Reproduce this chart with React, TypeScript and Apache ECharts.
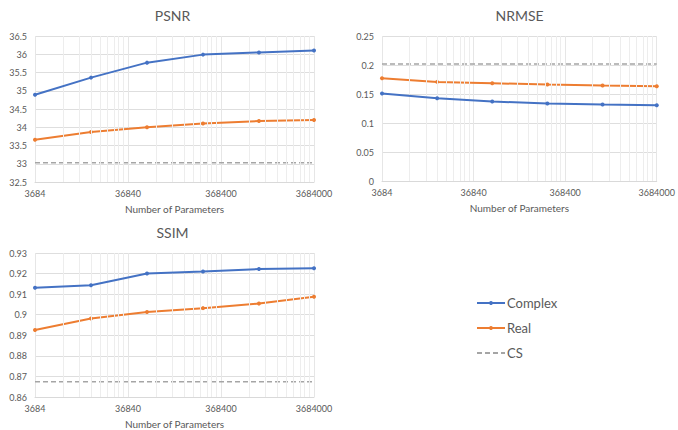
import React, { useEffect, useRef } from "react";
import * as echarts from "echarts";

const BASE = 3684;
const params = [3684, 14736, 58944, 235776, 943104, 3684000];
const xTickLabels = ["3684", "36840", "368400", "3684000"];

const psnrComplex = [34.89, 35.36, 35.77, 35.99, 36.05, 36.1];
const psnrReal = [33.66, 33.87, 34.0, 34.1, 34.17, 34.2];
const psnrCS = [33.03, 33.03, 33.03, 33.03, 33.03, 33.03];

const nrmseComplex = [0.1508, 0.1428, 0.137, 0.1336, 0.1319, 0.1307];
const nrmseReal = [0.1772, 0.1709, 0.1686, 0.1663, 0.1646, 0.1634];
const nrmseCS = [0.2018, 0.2018, 0.2018, 0.2018, 0.2018, 0.2018];

const ssimComplex = [0.9131, 0.9143, 0.92, 0.921, 0.9222, 0.9226];
const ssimReal = [0.8926, 0.8982, 0.9013, 0.9032, 0.9054, 0.9087];
const ssimCS = [0.8674, 0.8674, 0.8674, 0.8674, 0.8674, 0.8674];

const BLUE = "#4472C4";
const ORANGE = "#ED7D31";
const GRAY = "#A5A5A5";
const TEXT = "#595959";
const FONT = "Lato, 'Open Sans', sans-serif";

const xPos = params.map((p) => Math.log10(p / BASE));
const pts = (vals: number[]) => xPos.map((x, i) => [x, vals[i]]);

const minorLines: number[] = [];
for (let d = 0; d < 3; d++) {
  for (let k = 2; k <= 9; k++) minorLines.push(d + Math.log10(k));
}

const panels = [
  { title: "PSNR", left: 35, top: 36, width: 279, height: 146, min: 32.5, max: 36.5, interval: 0.5, c: psnrComplex, r: psnrReal, cs: psnrCS },
  { title: "NRMSE", left: 382, top: 36, width: 279, height: 145, min: 0, max: 0.25, interval: 0.05, c: nrmseComplex, r: nrmseReal, cs: nrmseCS },
  { title: "SSIM", left: 35, top: 253, width: 279, height: 146, min: 0.86, max: 0.93, interval: 0.01, c: ssimComplex, r: ssimReal, cs: ssimCS },
];

export default function App() {
  const ref = useRef<HTMLDivElement>(null);
  useEffect(() => {
    if (!ref.current) return;
    const chart = echarts.init(ref.current, undefined, { renderer: "svg" });
    const grid: any[] = [];
    const xAxis: any[] = [];
    const yAxis: any[] = [];
    const title: any[] = [];
    const series: any[] = [];
    panels.forEach((p, i) => {
      grid.push({ left: p.left, top: p.top, width: p.width, height: p.height });
      title.push({
        text: p.title,
        left: p.left + p.width / 2 - 2,
        top: p.top - 28,
        textAlign: "center",
        padding: 0,
        textStyle: { fontSize: 14, fontWeight: "normal", color: TEXT, fontFamily: FONT },
      });
      xAxis.push({
        type: "value",
        gridIndex: i,
        min: 0,
        max: 3,
        interval: 1,
        name: "Number of Parameters",
        nameLocation: "middle",
        nameGap: 22,
        nameTextStyle: { fontSize: 10, color: TEXT, fontFamily: FONT },
        axisLine: { show: true, lineStyle: { color: "#D9D9D9", width: 1 } },
        axisTick: { show: false },
        axisLabel: {
          fontSize: 9,
          color: TEXT,
          fontFamily: FONT,
          margin: 7,
          formatter: (v: number) => xTickLabels[Math.round(v)] ?? "",
        },
        splitLine: { show: true, lineStyle: { color: "#E6E6E6", width: 1 } },
      });
      yAxis.push({
        type: "value",
        gridIndex: i,
        min: p.min,
        max: p.max,
        interval: p.interval,
        axisLine: { show: false },
        axisTick: { show: false },
        axisLabel: { fontSize: 9, color: TEXT, fontFamily: FONT, margin: 8 },
        splitLine: { show: true, lineStyle: { color: "#DEDEDE", width: 1 } },
      });
      series.push({
        type: "line",
        xAxisIndex: i,
        yAxisIndex: i,
        data: [],
        z: 1,
        markLine: {
          silent: true,
          symbol: ["none", "none"],
          label: { show: false },
          lineStyle: { color: "#EDEDED", type: "solid", width: 1 },
          data: minorLines.map((v) => ({ xAxis: v })),
        },
      });
      series.push({
        name: "CS",
        type: "line",
        xAxisIndex: i,
        yAxisIndex: i,
        data: pts(p.cs),
        symbol: "none",
        lineStyle: { color: GRAY, width: 1.5, type: [5, 3] },
        itemStyle: { color: GRAY },
        z: 3,
      });
      series.push({
        name: "Real",
        type: "line",
        xAxisIndex: i,
        yAxisIndex: i,
        data: pts(p.r),
        symbol: "circle",
        symbolSize: 4,
        lineStyle: { color: ORANGE, width: 2 },
        itemStyle: { color: ORANGE },
        z: 4,
      });
      series.push({
        name: "Complex",
        type: "line",
        xAxisIndex: i,
        yAxisIndex: i,
        data: pts(p.c),
        symbol: "circle",
        symbolSize: 4,
        lineStyle: { color: BLUE, width: 2 },
        itemStyle: { color: BLUE },
        z: 5,
      });
    });
    chart.setOption({
      animation: false,
      backgroundColor: "#ffffff",
      textStyle: { fontFamily: FONT },
      title,
      grid,
      xAxis,
      yAxis,
      series,
      legend: {
        data: ["Complex", "Real", { name: "CS", itemStyle: { opacity: 0 } }],
        orient: "vertical",
        left: 476,
        top: 295,
        itemWidth: 28,
        itemHeight: 5,
        itemGap: 9,
        padding: 0,
        textStyle: { fontSize: 13, color: TEXT, fontFamily: FONT, padding: [0, 0, 0, -3], lineHeight: 16 },
      },
    });
    return () => chart.dispose();
  }, []);
  return (
    <div
      ref={ref}
      style={{ position: "fixed", left: 0, top: 0, width: 678, height: 430 }}
    />
  );
}
